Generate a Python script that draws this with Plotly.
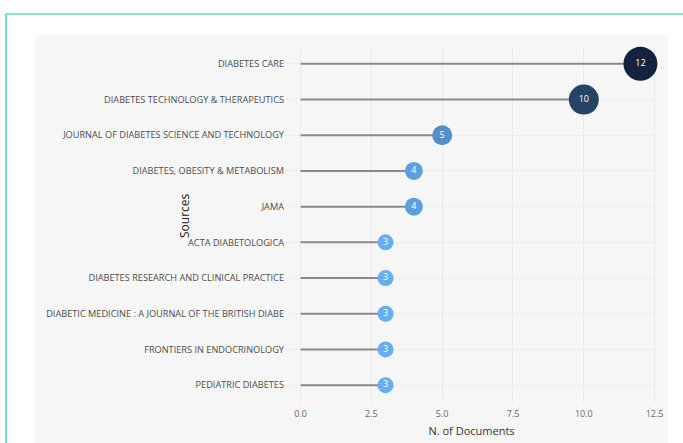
import plotly.graph_objects as go

sources = [
    "DIABETES CARE",
    "DIABETES TECHNOLOGY & THERAPEUTICS",
    "JOURNAL OF DIABETES SCIENCE AND TECHNOLOGY",
    "DIABETES, OBESITY & METABOLISM",
    "JAMA",
    "ACTA DIABETOLOGICA",
    "DIABETES RESEARCH AND CLINICAL PRACTICE",
    "DIABETIC MEDICINE : A JOURNAL OF THE BRITISH DIABE",
    "FRONTIERS IN ENDOCRINOLOGY",
    "PEDIATRIC DIABETES",
]
documents = [12, 10, 5, 4, 4, 3, 3, 3, 3, 3]
x_ticks = [0, 2.5, 5, 7.5, 10, 12.5]

# stems
stem_x, stem_y = [], []
for s, v in zip(sources, documents):
    stem_x += [0, v, None]
    stem_y += [s, s, None]

fig = go.Figure()
fig.add_trace(go.Scatter(
    x=stem_x, y=stem_y, mode="lines",
    line=dict(color="#8a8a8a", width=2),
    hoverinfo="skip", showlegend=False,
))
fig.add_trace(go.Scatter(
    x=documents, y=sources, mode="markers+text",
    text=[str(v) for v in documents],
    textposition="middle center",
    textfont=dict(color="white", size=9, family="Open Sans"),
    marker=dict(
        size=[10 + 2 * v for v in documents],
        color=documents, cmin=3, cmax=12,
        colorscale=[[0, "#66aef3"], [1, "#13233f"]],
        line=dict(width=0),
        opacity=1,
    ),
    showlegend=False,
))

L, R, T, B = 285, 25, 46, 40
W, H = 683, 443
pw, ph = W - L - R, H - T - B

def px(x):
    return (x - L) / pw

def py(y):
    return (H - B - y) / ph

fig.update_layout(
    width=W, height=H,
    margin=dict(l=L, r=R, t=T, b=B),
    paper_bgcolor="white",
    plot_bgcolor="rgba(0,0,0,0)",
    font=dict(family="Open Sans", color="#555555"),
    shapes=[
        dict(type="rect", xref="paper", yref="paper",
             x0=px(35), x1=px(668), y0=py(460), y1=py(35),
             fillcolor="#f6f6f6", line=dict(width=0), layer="below"),
        dict(type="line", xref="paper", yref="paper",
             x0=px(6), x1=px(700), y0=py(14), y1=py(14),
             line=dict(color="#1fcf86", width=1.2), layer="below"),
        dict(type="line", xref="paper", yref="paper",
             x0=px(6), x1=px(6), y0=py(14), y1=py(460),
             line=dict(color="#1fcf86", width=1.2), layer="below"),
    ],
    annotations=[
        dict(text="Sources", textangle=-90, xref="paper", yref="paper",
             x=px(184), y=py(216), xanchor="center", yanchor="middle",
             showarrow=False,
             font=dict(size=12, color="#222222", family="Open Sans")),
    ],
)
fig.update_xaxes(
    range=[-0.55, 12.62],
    automargin=False,
    tickvals=x_ticks, tickformat=".1f",
    tickfont=dict(size=9, color="#666666"),
    ticklabelstandoff=4,
    showgrid=True, gridcolor="#e9e9e9", gridwidth=1,
    zeroline=False, showline=False,
    title=dict(text="N. of Documents", font=dict(size=11, color="#333333"), standoff=8),
)
fig.update_yaxes(
    categoryorder="array", categoryarray=sources[::-1],
    range=[-0.5, 9.5],
    automargin=False,
    tickfont=dict(size=9.2, color="#4d4d4d"),
    showgrid=True, gridcolor="#ececec", gridwidth=1,
    zeroline=False, showline=False,
)
fig.write_html(
    "out.html",
    config={"displayModeBar": False},
    post_script="document.body.style.margin='0';document.body.style.overflow='hidden';",
)
